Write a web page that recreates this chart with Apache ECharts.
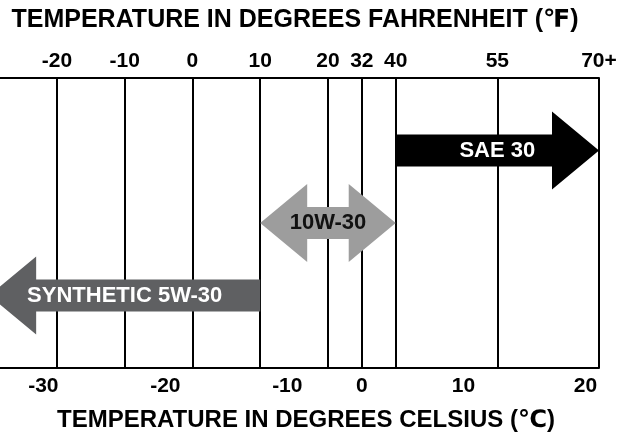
<!DOCTYPE html>
<html>
<head>
<meta charset="utf-8">
<script src="https://cdn.jsdelivr.net/npm/echarts@6/dist/echarts.min.js"></script>
<style>html,body{margin:0;padding:0;background:#fff;}#c{width:632px;height:438px;}</style>
</head>
<body>
<div id="c"></div>
<script>
// Fahrenheit tick labels and values (top axis)
const fTickLabels = ['-30', '-20', '-10', '0', '10', '20', '32', '40', '55', '70+'];
const fTickValues = [-30, -20, -10, 0, 10, 20, 32, 40, 55, 70];
// Relative width of each gap between Fahrenheit ticks (the chart's non-linear scale)
const fGapWeights = [2, 2, 2, 2, 2, 1, 1, 3, 3];
// Celsius tick labels (bottom axis)
const cTickValues = [-30, -20, -10, 0, 10, 20];
// Oil grades and their temperature ranges (°F)
const grades = ['SAE 30', '10W-30', 'SYNTHETIC 5W-30'];
const gradeFromF = [40, 10, -30];
const gradeToF = [70, 40, 10];
const gradeArrow = ['right', 'both', 'left'];
const gradeColors = ['#000000', '#9d9d9d', '#5f6062'];
const gradeTextColors = ['#ffffff', '#111111', '#ffffff'];

// cumulative scale positions of the Fahrenheit ticks
const fSlots = [0];
fGapWeights.forEach((w, i) => fSlots.push(fSlots[i] + w));
function fToSlot(f) {
  for (let i = 0; i < fTickValues.length - 1; i++) {
    const a = fTickValues[i], b = fTickValues[i + 1];
    if (f <= b || i === fTickValues.length - 2) {
      return fSlots[i] + (f - a) / (b - a) * (fSlots[i + 1] - fSlots[i]);
    }
  }
}
const cToF = c => c * 9 / 5 + 32;
const fLabelSlots = fTickValues.map(fToSlot);
const cLabelSlots = cTickValues.map(c => fToSlot(cToF(c)));
const slotMax = fSlots[fSlots.length - 1];
const slotMin = 0.32; // the -30 °F edge sits just off the left side of the picture

const font = '"Liberation Sans", Arial, "DejaVu Sans", sans-serif';

const data = grades.map((g, i) => [fToSlot(gradeFromF[i]), fToSlot(gradeToF[i]), i + 1, i]);

function nearestLabel(slots, labels) {
  return v => {
    let best = 0;
    slots.forEach((s, i) => { if (Math.abs(s - v) < Math.abs(slots[best] - v)) best = i; });
    return String(labels[best]);
  };
}

const chart = echarts.init(document.getElementById('c'), null, {renderer: 'canvas'});
chart.setOption({
  backgroundColor: '#ffffff',
  animation: false,
  grid: {left: 0, top: 78, right: 33, height: 290, containLabel: false},
  graphic: [
    {type: 'text', style: {text: 'TEMPERATURE IN DEGREES FAHRENHEIT (℉)', x: 295, y: 20, align: 'center', verticalAlign: 'middle', font: 'bold 25px ' + font, fill: '#000'}},
    {type: 'text', style: {text: 'TEMPERATURE IN DEGREES CELSIUS (℃)', x: 306, y: 420, align: 'center', verticalAlign: 'middle', font: 'bold 24px ' + font, fill: '#000'}}
  ],
  xAxis: [
    {
      type: 'value', position: 'top', min: slotMin, max: slotMax,
      axisLine: {show: true, lineStyle: {color: '#000', width: 2}},
      axisTick: {show: false, customValues: fLabelSlots},
      splitLine: {show: true, lineStyle: {color: '#000', width: 2}},
      axisLabel: {
        customValues: fLabelSlots, margin: 6,
        fontFamily: font, fontWeight: 'bold', fontSize: 21, color: '#000',
        formatter: nearestLabel(fLabelSlots, fTickLabels)
      }
    },
    {
      type: 'value', position: 'bottom', min: slotMin, max: slotMax,
      axisLine: {show: true, lineStyle: {color: '#000', width: 2}},
      axisTick: {show: false},
      splitLine: {show: false},
      axisLabel: {
        customValues: cLabelSlots, margin: 8,
        fontFamily: font, fontWeight: 'bold', fontSize: 21, color: '#000',
        formatter: nearestLabel(cLabelSlots, cTickValues)
      }
    }
  ],
  yAxis: {type: 'value', min: 0, max: grades.length + 1, inverse: true, show: false},
  series: [{
    type: 'custom',
    xAxisIndex: 0, yAxisIndex: 0,
    clip: false,
    data: data,
    renderItem: (params, api) => {
      const x1 = api.coord([api.value(0), api.value(2)])[0];
      const x2 = api.coord([api.value(1), api.value(2)])[0];
      const y = api.coord([api.value(0), api.value(2)])[1];
      const idx = api.value(3);
      const h = 16, H = 39, L = 47;
      let pts;
      const kind = gradeArrow[idx];
      if (kind === 'right') {
        pts = [[x1, y - h], [x2 - L, y - h], [x2 - L, y - H], [x2, y], [x2 - L, y + H], [x2 - L, y + h], [x1, y + h]];
      } else if (kind === 'left') {
        pts = [[x2, y - h], [x1 + L, y - h], [x1 + L, y - H], [x1, y], [x1 + L, y + H], [x1 + L, y + h], [x2, y + h]];
      } else {
        pts = [[x1, y], [x1 + L, y - H], [x1 + L, y - h], [x2 - L, y - h], [x2 - L, y - H], [x2, y], [x2 - L, y + H], [x2 - L, y + h], [x1 + L, y + h], [x1 + L, y + H]];
      }
      return {
        type: 'group',
        children: [
          {type: 'polygon', shape: {points: pts}, style: {fill: gradeColors[idx], stroke: null}},
          {type: 'text', style: {text: grades[idx], x: (x1 + x2) / 2, y: y, align: 'center', verticalAlign: 'middle', font: 'bold 22px ' + font, fill: gradeTextColors[idx]}}
        ]
      };
    }
  }]
});
</script>
</body>
</html>
